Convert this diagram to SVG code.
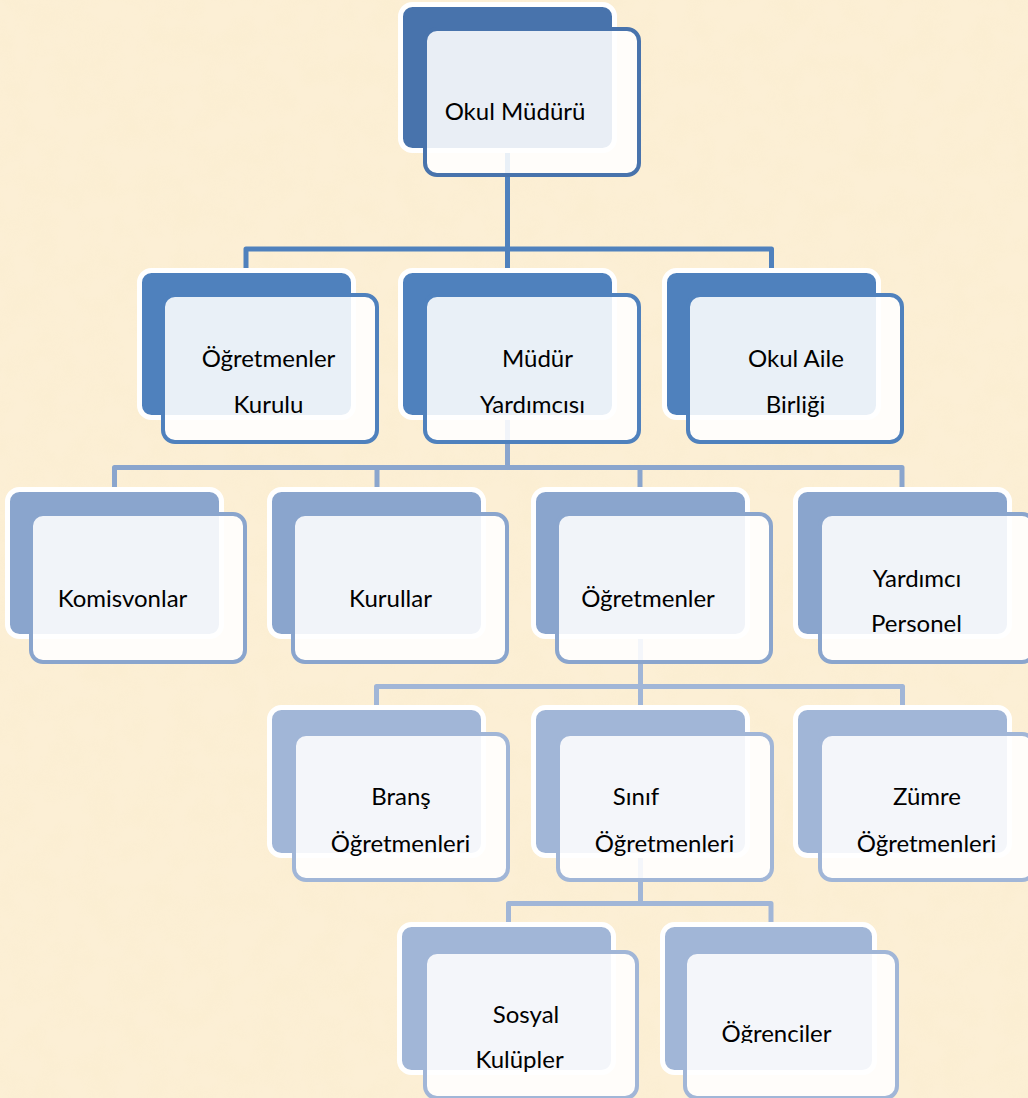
<svg xmlns="http://www.w3.org/2000/svg" width="1028" height="1098" viewBox="0 0 1028 1098">
  <defs>
    <filter id="paper" x="0" y="0" width="100%" height="100%">
      <feTurbulence type="fractalNoise" baseFrequency="0.035" numOctaves="3" seed="7" result="n"/>
      <feColorMatrix in="n" type="matrix" values="0 0 0 0 0.93  0 0 0 0 0.82  0 0 0 0 0.55  0 0 0 0.9 -0.3"/>
    </filter>
    <clipPath id="clipOgr">
      <rect x="690" y="1000" width="200" height="43"/>
    </clipPath>
  </defs>
  <style>
    .bk { stroke: #ffffff; stroke-width: 5; }
    .fr { fill: #ffffff; fill-opacity: 0.88; stroke-width: 4; }
    .l0 .bk { fill: #4873ac; }
    .l0 .fr { stroke: #4873ac; }
    .l1 .bk { fill: #4f81bd; }
    .l1 .fr { stroke: #4f81bd; }
    .l2 .bk { fill: #8aa5cd; }
    .l2 .fr { stroke: #8aa5cd; }
    .l3 .bk { fill: #a1b6d7; }
    .l3 .fr { stroke: #a1b6d7; }
    .cn { fill: none; stroke-width: 5; stroke-linejoin: round; }
    text { font-family: Lato, "Liberation Sans", sans-serif; font-size: 24px; fill: #000000; text-anchor: middle; }
  </style>

  <rect width="1028" height="1098" fill="#fcefd5"/>
  <rect width="1028" height="1098" filter="url(#paper)" opacity="0.35"/>

  <g id="connectors">
    <path class="cn" stroke="#4f81bd" d="M507.5,150 V249 M246,270 V249 H771.5 V270 M507.5,249 V270"/>
    <path class="cn" stroke="#8aa5cd" d="M507.5,420 V467.5 M114.5,489 V467.5 H902 V489 M377,467.5 V489 M640,467.5 V489"/>
    <path class="cn" stroke="#a1b6d7" d="M640.5,637 V686.5 M376.5,707 V686.5 H902.5 V707 M640.5,686.5 V707"/>
    <path class="cn" stroke="#a1b6d7" d="M640.5,855 V903.5 M508.5,924 V903.5 H771 V924"/>
  </g>

  <g id="node-okul-muduru" class="l0">
    <rect class="bk" x="400.5" y="4.5" width="214" height="146" rx="12"/>
    <rect class="fr" x="425" y="29" width="214" height="146" rx="12"/>
    <text x="515" y="120">Okul Müdürü</text>
  </g>

  <g id="node-ogretmenler-kurulu" class="l1">
    <rect class="bk" x="139.5" y="270.5" width="214" height="147" rx="12"/>
    <rect class="fr" x="163" y="295" width="214" height="147" rx="12"/>
    <text x="268.5" y="367">Öğretmenler</text>
    <text x="268.5" y="413">Kurulu</text>
  </g>

  <g id="node-mudur-yardimcisi" class="l1">
    <rect class="bk" x="400.5" y="270.5" width="214" height="147" rx="12"/>
    <rect class="fr" x="425" y="295" width="214" height="147" rx="12"/>
    <text x="537.5" y="367">Müdür</text>
    <text x="532.5" y="413">Yardımcısı</text>
  </g>

  <g id="node-okul-aile-birligi" class="l1">
    <rect class="bk" x="664.5" y="270.5" width="214" height="147" rx="12"/>
    <rect class="fr" x="688" y="295" width="214" height="147" rx="12"/>
    <text x="796" y="367">Okul Aile</text>
    <text x="795.5" y="413">Birliği</text>
  </g>

  <g id="node-komisyonlar" class="l2">
    <rect class="bk" x="7.5" y="489.5" width="214" height="147" rx="12"/>
    <rect class="fr" x="31" y="514" width="214" height="148" rx="12"/>
    <text x="122.5" y="607">Komisvonlar</text>
  </g>

  <g id="node-kurullar" class="l2">
    <rect class="bk" x="269.5" y="489.5" width="214" height="147" rx="12"/>
    <rect class="fr" x="293" y="514" width="214" height="148" rx="12"/>
    <text x="390.5" y="607">Kurullar</text>
  </g>

  <g id="node-ogretmenler" class="l2">
    <rect class="bk" x="533.5" y="489.5" width="214" height="147" rx="12"/>
    <rect class="fr" x="557" y="514" width="214" height="148" rx="12"/>
    <text x="648" y="607">Öğretmenler</text>
  </g>

  <g id="node-yardimci-personel" class="l2">
    <rect class="bk" x="795.5" y="489.5" width="214" height="147" rx="12"/>
    <rect class="fr" x="820" y="514" width="214" height="148" rx="12"/>
    <text x="917" y="587">Yardımcı</text>
    <text x="916.5" y="632">Personel</text>
  </g>

  <g id="node-brans-ogretmenleri" class="l3">
    <rect class="bk" x="269.5" y="707.5" width="214" height="148" rx="12"/>
    <rect class="fr" x="294" y="734" width="214" height="146" rx="12"/>
    <text x="401" y="805">Branş</text>
    <text x="400.5" y="852">Öğretmenleri</text>
  </g>

  <g id="node-sinif-ogretmenleri" class="l3">
    <rect class="bk" x="533.5" y="707.5" width="214" height="148" rx="12"/>
    <rect class="fr" x="558" y="734" width="214" height="146" rx="12"/>
    <text x="636" y="805">Sınıf</text>
    <text x="664.5" y="852">Öğretmenleri</text>
  </g>

  <g id="node-zumre-ogretmenleri" class="l3">
    <rect class="bk" x="795.5" y="707.5" width="214" height="148" rx="12"/>
    <rect class="fr" x="820" y="734" width="214" height="146" rx="12"/>
    <text x="927" y="805">Zümre</text>
    <text x="926.5" y="852">Öğretmenleri</text>
  </g>

  <g id="node-sosyal-kulupler" class="l3">
    <rect class="bk" x="399.5" y="924.5" width="214" height="148" rx="12"/>
    <rect class="fr" x="425" y="952" width="212" height="146" rx="12"/>
    <text x="526" y="1023">Sosyal</text>
    <text x="519.5" y="1068">Kulüpler</text>
  </g>

  <g id="node-ogrenciler" class="l3">
    <rect class="bk" x="662.5" y="924.5" width="212" height="148" rx="12"/>
    <rect class="fr" x="685" y="952" width="212" height="146" rx="12"/>
    <text x="776.5" y="1042" clip-path="url(#clipOgr)">Öğrenciler</text>
  </g>
</svg>
